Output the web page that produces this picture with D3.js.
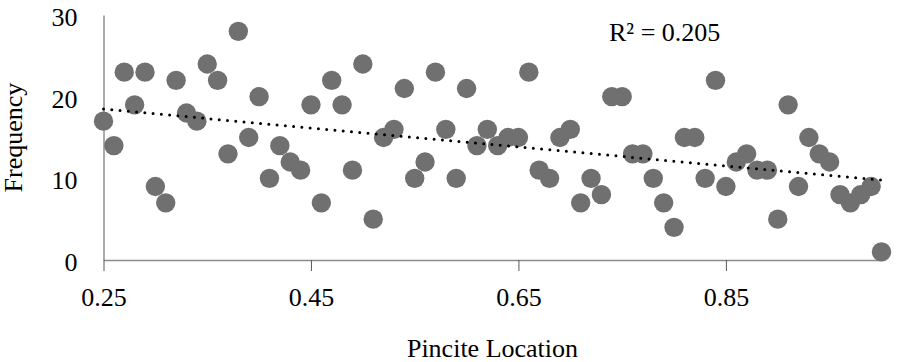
<!DOCTYPE html>
<html>
<head>
<meta charset="utf-8">
<script src="https://cdn.jsdelivr.net/npm/d3@7"></script>
<style>
  body { margin: 0; background: #fff; }
  text { font-family: "Liberation Serif", "Times New Roman", serif; fill: #000; }
</style>
</head>
<body>
<div class="chart"></div>
<script>
// pincite location (x) and frequency (y)
var pinciteLocation = [
  0.25, 0.26, 0.27, 0.28, 0.29, 0.30, 0.31, 0.32, 0.33, 0.34,
  0.35, 0.36, 0.37, 0.38, 0.39, 0.40, 0.41, 0.42, 0.43, 0.44,
  0.45, 0.46, 0.47, 0.48, 0.49, 0.50, 0.51, 0.52, 0.53, 0.54,
  0.55, 0.56, 0.57, 0.58, 0.59, 0.60, 0.61, 0.62, 0.63, 0.64,
  0.65, 0.66, 0.67, 0.68, 0.69, 0.70, 0.71, 0.72, 0.73, 0.74,
  0.75, 0.76, 0.77, 0.78, 0.79, 0.80, 0.81, 0.82, 0.83, 0.84,
  0.85, 0.86, 0.87, 0.88, 0.89, 0.90, 0.91, 0.92, 0.93, 0.94,
  0.95, 0.96, 0.97, 0.98, 0.99, 1.00
];
var frequency = [
  17, 14, 23, 19, 23, 9, 7, 22, 18, 17,
  24, 22, 13, 28, 15, 20, 10, 14, 12, 11,
  19, 7, 22, 19, 11, 24, 5, 15, 16, 21,
  10, 12, 23, 16, 10, 21, 14, 16, 14, 15,
  15, 23, 11, 10, 15, 16, 7, 10, 8, 20,
  20, 13, 13, 10, 7, 4, 15, 15, 10, 22,
  9, 12, 13, 11, 11, 5, 19, 9, 15, 13,
  12, 8, 7, 8, 9, 1
];
var xTicks = [0.25, 0.45, 0.65, 0.85];
var yTicks = [0, 10, 20, 30];
var rSquaredLabel = "R² = 0.205";

var data = pinciteLocation.map((x, i) => ({ x: x, y: frequency[i] }));

var margin = { top: 15, left: 103.5 };
var width = 778;
var height = 245;

var svg = d3
  .select(".chart")
  .append("svg")
  .attr("width", 897)
  .attr("height", 362);

var g = svg
  .append("g")
  .attr("transform", `translate(${margin.left}, ${margin.top})`);

var xScale = d3.scaleLinear().domain([0.25, 1.0]).range([0, width]);
var yScale = d3.scaleLinear().domain([0, 30]).range([height, 0]);

// y axis: line only, labels to the left
var yAxis = g
  .append("g")
  .call(d3.axisLeft(yScale).tickValues(yTicks).tickSize(0).tickSizeOuter(0).tickPadding(26));
yAxis.select(".domain").attr("stroke", "#595959").attr("stroke-width", 1);
yAxis.selectAll("text").attr("font-size", 26).attr("dy", "0.4em");

// x axis
var xAxis = g
  .append("g")
  .attr("transform", `translate(0, ${height})`)
  .call(
    d3.axisBottom(xScale).tickValues(xTicks).tickSize(11).tickSizeOuter(0)
      .tickFormat(d3.format(".2f"))
  );
xAxis.select(".domain").attr("stroke", "#8c8c8c").attr("stroke-width", 1.6);
xAxis.selectAll(".tick line").attr("stroke", "#595959").attr("stroke-width", 1);
xAxis.selectAll("text").attr("font-size", 26).attr("y", 28);

// points
g.selectAll("circle")
  .data(data)
  .enter()
  .append("circle")
  .attr("cx", (d) => xScale(d.x))
  .attr("cy", (d) => yScale(d.y))
  .attr("r", 9.7)
  .attr("fill", "#707070");

// linear trendline (least squares)
var mx = d3.mean(data, (d) => d.x);
var my = d3.mean(data, (d) => d.y);
var slope =
  d3.sum(data, (d) => (d.x - mx) * (d.y - my)) /
  d3.sum(data, (d) => (d.x - mx) * (d.x - mx));
var intercept = my - slope * mx;
var xExt = d3.extent(data, (d) => d.x);

g.append("line")
  .attr("x1", xScale(xExt[0]))
  .attr("y1", yScale(intercept + slope * xExt[0]))
  .attr("x2", xScale(xExt[1]))
  .attr("y2", yScale(intercept + slope * xExt[1]))
  .attr("stroke", "#000")
  .attr("stroke-width", 3)
  .attr("stroke-linecap", "round")
  .attr("stroke-dasharray", "0 8.3");

// labels
svg.append("text")
  .attr("x", 609)
  .attr("y", 41)
  .attr("font-size", 26)
  .text(rSquaredLabel);

svg.append("text")
  .attr("transform", `translate(22, ${margin.top + height / 2}) rotate(-90)`)
  .attr("text-anchor", "middle")
  .attr("font-size", 26)
  .text("Frequency");

svg.append("text")
  .attr("x", margin.left + width / 2)
  .attr("y", 357)
  .attr("text-anchor", "middle")
  .attr("font-size", 26)
  .text("Pincite Location");
</script>
</body>
</html>
